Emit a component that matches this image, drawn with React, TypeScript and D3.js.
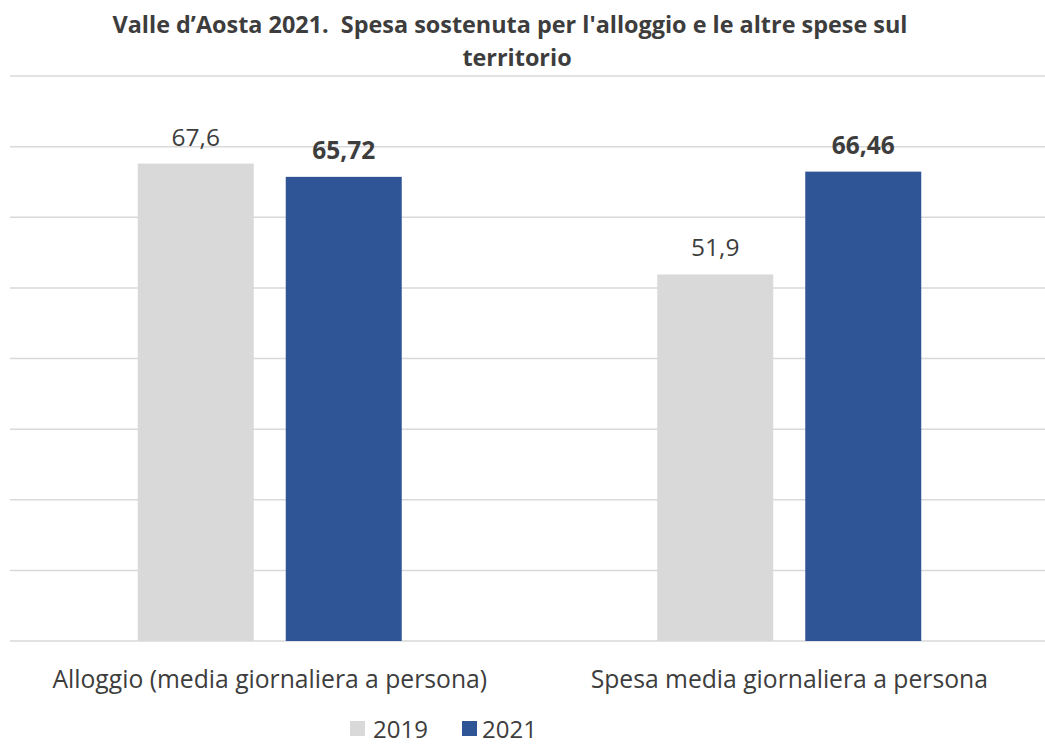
import React from "react";
import * as d3 from "d3";

const categories = ["Alloggio (media giornaliera a persona)", "Spesa media giornaliera a persona"];
const seriesNames = ["2019", "2021"];
const values2019 = [67.6, 51.9];
const values2021 = [65.72, 66.46];
const labels2019 = ["67,6", "51,9"];
const labels2021 = ["65,72", "66,46"];
const yTicks = [0, 10, 20, 30, 40, 50, 60, 70, 80];
const titleLines = ["Valle d\u2019Aosta 2021.  Spesa sostenuta per l'alloggio e le altre spese sul ", "territorio"];

const W = 1045;
const H = 747;
const FONT = "'Open Sans', 'Noto Sans', sans-serif";
const TEXT = "#3d3d3d";
const GRAY = "#D9D9D9";
const BLUE = "#2F5597";
const GRID = "#D9D9D9";

export default function App() {
  const plotLeft = 10;
  const plotRight = 1049;
  const plotTop = 76;
  const plotBottom = 641;

  const y = d3.scaleLinear().domain([0, 80]).range([plotBottom, plotTop]);
  const x0 = d3.scaleBand<string>().domain(categories).range([plotLeft, plotRight]).padding(0);
  const barW = 116;
  const gap = 32;
  const step = barW + gap;
  const pi = gap / step;
  const po = (x0.bandwidth() / step - (2 - pi)) / 2;
  const x1 = d3
    .scaleBand<string>()
    .domain(seriesNames)
    .range([0, x0.bandwidth()])
    .paddingInner(pi)
    .paddingOuter(po);

  const series = [
    { name: seriesNames[0], values: values2019, labels: labels2019, color: GRAY, bold: false },
    { name: seriesNames[1], values: values2021, labels: labels2021, color: BLUE, bold: true },
  ];

  const legendItems = [
    { name: seriesNames[0], color: GRAY, sx: 350, tx: 373 },
    { name: seriesNames[1], color: BLUE, sx: 462, tx: 482 },
  ];

  return (
    <svg width={W} height={H} style={{ position: "absolute", left: 0, top: 0, background: "#fff" }}>
      <rect x={0} y={0} width={W} height={H} fill="#fff" />
      {/* title */}
      <text x={510} y={33} textAnchor="middle" fontFamily={FONT} fontWeight={700} fontSize={23.4} fill={TEXT} style={{ whiteSpace: "pre" }}>
        {titleLines[0].trimEnd()}
      </text>
      <text x={517} y={66} textAnchor="middle" fontFamily={FONT} fontWeight={700} fontSize={23.4} fill={TEXT}>
        {titleLines[1]}
      </text>
      {/* gridlines */}
      {yTicks.map((t) => (
        <line key={t} x1={plotLeft} x2={plotRight} y1={y(t)} y2={y(t)} stroke={GRID} strokeWidth={1.5} />
      ))}
      {/* bars */}
      {categories.map((c, ci) => (
        <g key={c} transform={`translate(${x0(c)},0)`}>
          {series.map((s) => (
            <rect
              key={s.name}
              x={x1(s.name)}
              y={y(s.values[ci])}
              width={x1.bandwidth()}
              height={y(0) - y(s.values[ci])}
              fill={s.color}
            />
          ))}
          {series.map((s) => (
            <text
              key={s.name + "l"}
              x={(x1(s.name) as number) + x1.bandwidth() / 2}
              y={y(s.values[ci]) - 18}
              textAnchor="middle"
              fontFamily={FONT}
              fontSize={24.5}
              fontWeight={s.bold ? 700 : 400}
              fill={TEXT}
            >
              {s.labels[ci]}
            </text>
          ))}
        </g>
      ))}
      {/* category labels */}
      {categories.map((c) => (
        <text key={c} x={(x0(c) as number) + x0.bandwidth() / 2} y={688} textAnchor="middle" fontFamily={FONT} fontSize={24.7} fill={TEXT}>
          {c}
        </text>
      ))}
      {/* legend */}
      {legendItems.map((l) => (
        <g key={l.name}>
          <rect x={l.sx} y={721} width={15} height={15} fill={l.color} />
          <text x={l.tx} y={738} fontFamily={FONT} fontSize={24} fill={TEXT}>
            {l.name}
          </text>
        </g>
      ))}
    </svg>
  );
}
